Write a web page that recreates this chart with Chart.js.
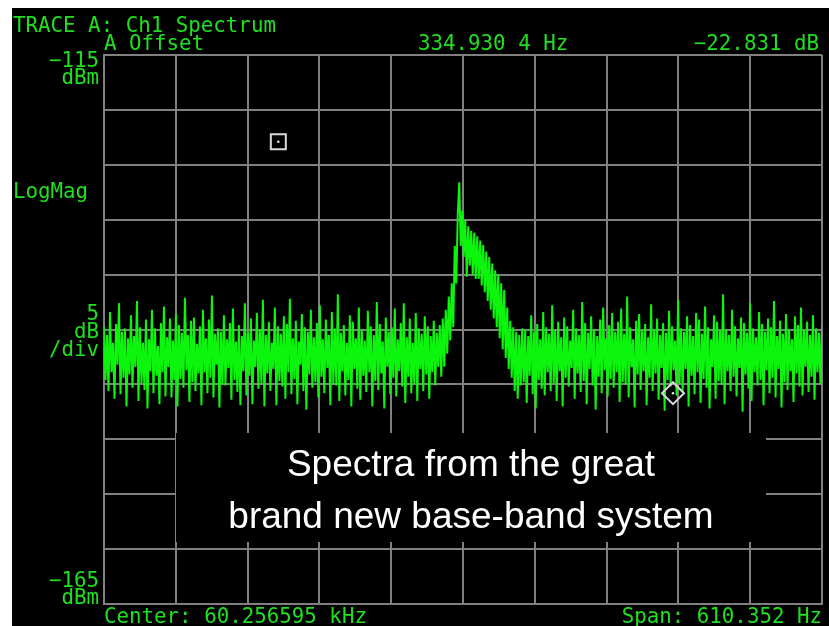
<!DOCTYPE html>
<html><head><meta charset="utf-8">
<script src="https://cdn.jsdelivr.net/npm/chart.js@4.4.1/dist/chart.umd.min.js"></script>
<style>html,body{margin:0;padding:0;background:#fff;overflow:hidden}canvas{display:block}</style>
</head><body>
<canvas id="c" width="829" height="626"></canvas>
<script>
// ---- data (dBm) ----
const floorLeft = [
-139.8,-144.6,-140.5,-145.6,-138.4,-143.9,-141.2,-146.3,-139.5,-143.2,-137.6,-145.9,-140.2,-144.4,-139.9,-147.0,
-140.8,-144.1,-138.7,-145.3,-140.6,-143.4,-137.4,-146.5,-139.8,-144.9,-141.2,-145.5,-139.1,-147.2,-140.9,-143.8,
-138.2,-145.8,-139.9,-144.2,-141.5,-146.8,-139.4,-143.9,-137.9,-146.1,-140.7,-143.4,-139.0,-146.2,-141.0,-144.6,
-138.6,-147.0,-139.6,-144.5,-140.3,-145.3,-137.1,-143.7,-140.5,-146.6,-139.2,-144.8,-138.9,-145.6,-141.3,-144.0,
-139.7,-146.9,-138.2,-143.9,-140.8,-145.8,-139.1,-144.4,-136.9,-146.2,-140.4,-143.2,-139.9,-147.1,-140.2,-145.0,
-138.7,-145.1,-140.9,-143.5,-139.4,-146.4,-138.1,-144.6,-141.1,-145.7,-139.6,-146.9,-140.6,-143.8,-137.6,-146.0,
-140.3,-144.2,-139.0,-146.8,-141.0,-143.4,-138.5,-145.4,-140.0,-144.9,-137.3,-147.0,-140.5,-144.0,-139.3,-145.6,
-141.2,-143.6,-138.0,-146.9,-139.7,-144.7,-140.4,-145.2,-138.8,-146.3,-139.5,-143.9,-137.2,-145.9,-140.8,-144.5,
-139.2,-146.8,-141.1,-143.2,-138.6,-145.6,-139.8,-147.3,-140.2,-144.1,-138.2,-145.3,-140.7,-144.8,-139.4,-146.2,
-137.8,-144.3,-140.9,-145.8,-139.1,-143.5,-140.5,-146.9,-138.4,-145.0,-139.9,-145.1,-136.8,-146.5,-140.3,-143.8,
-139.6,-146.0,-141.2,-144.6,-138.7,-147.0,-139.3,-143.6,-140.8,-145.4,-138.0,-146.4,-140.0,-144.2,-141.0,-145.7,
-138.3,-143.9,-139.7,-147.0,-140.5,-144.7,-137.5,-145.5,-139.5,-144.0,-141.1,-147.2,-138.9,-143.4,-140.2,-145.9,
-139.8,-144.4,-138.1,-146.1,-140.9,-143.8,-139.4,-145.2,-137.6,-146.7,-140.7,-144.3,-139.0,-145.8,-141.2,-144.9,
-138.5,-146.5,-139.9,-143.6,-140.4,-145.6,-138.8,-144.1,-139.7,-146.3,-140.6,-143.9,-139.2,-145.1,-140.3,-143.4
];
const peakRegion = [
-139.6,-144.3,-139.0,-143.4,-138.2,-142.2,-137.0,-141.0,-135.8,-139.8,
-132.4,-135.8,-129.6,-126.6,-132.4,-129.2,-133.4,-130.0,-135.2,-130.6,
-134.2,-131.0,-135.0,-131.2,-135.4,-131.5,-135.4,-131.9,-136.0,-132.3,
-136.6,-132.9,-137.4,-133.4,-138.2,-134.0,-139.0,-134.6,-139.8,-135.0,
-140.8,-135.8,-141.8,-136.4,-142.6,-138.0,-143.6,-139.2,-144.4,-139.8,
-145.6,-140.2,-146.3,-140.5,-145.1,-139.9
];
const floorRight = [
-144.8,-140.0,-146.7,-140.6,-144.2,-138.7,-145.9,-140.2,-147.2,-139.5,-144.6,-140.9,-145.4,-138.4,-146.0,-139.8,
-143.9,-140.4,-145.6,-137.8,-144.9,-140.1,-146.5,-139.3,-143.8,-140.7,-147.0,-138.9,-144.4,-139.7,-145.2,-141.0,
-143.5,-138.2,-146.3,-139.9,-144.0,-140.5,-145.7,-137.5,-144.7,-139.4,-146.8,-140.3,-143.6,-138.8,-145.1,-140.0,
-147.3,-140.6,-144.3,-139.1,-145.8,-138.0,-143.7,-140.8,-146.1,-139.6,-144.5,-138.5,-145.3,-140.2,-143.9,-139.3,
-146.6,-138.1,-144.8,-140.4,-145.0,-137.0,-146.2,-139.8,-143.4,-140.9,-147.1,-139.2,-144.1,-138.6,-145.5,-140.1,
-143.8,-139.5,-146.9,-140.7,-144.4,-137.7,-145.6,-140.0,-144.0,-139.0,-146.4,-140.5,-143.5,-139.4,-147.4,-140.3,
-144.6,-138.3,-145.2,-139.7,-143.7,-141.0,-146.0,-137.3,-144.9,-139.9,-145.7,-140.2,-143.6,-138.8,-147.0,-139.6,
-144.2,-140.6,-145.9,-138.5,-143.9,-139.1,-146.7,-140.4,-144.5,-137.9,-145.3,-139.8,-147.2,-140.9,-143.4,-138.7,
-146.3,-139.3,-144.7,-140.1,-145.0,-136.8,-146.8,-140.0,-143.8,-140.5,-145.6,-138.2,-144.3,-139.7,-146.1,-140.8,
-143.5,-138.9,-147.5,-139.4,-144.1,-140.3,-145.4,-137.6,-146.5,-139.9,-143.9,-140.7,-145.1,-138.4,-144.6,-139.5,
-146.9,-140.2,-143.7,-139.0,-145.8,-139.8,-144.4,-137.4,-146.2,-140.6,-143.6,-139.2,-147.1,-140.4,-144.8,-138.6,
-145.5,-140.0,-143.8,-140.9,-146.6,-138.8,-144.0,-139.6,-145.2,-138.0,-146.0,-140.1,-143.4,-139.3,-145.7,-140.5,
-144.3,-138.7,-146.4,-139.9,-143.9,-140.3,-145.0,-139.7
];
const traceValues = floorLeft.concat(peakRegion, floorRight);
const traceX = traceValues.map((v, i) => i);

const squareMarkerX = [116.3];
const squareMarkerY = [-122.9];
const diamondMarkerX = [379.6];
const diamondMarkerY = [-145.8];

const yTop = -115, yBottom = -165, yPerDiv = 5;
const xDivisions = 10;

const headerLine1 = "TRACE A: Ch1 Spectrum";
const headerLeft = "A Offset";
const headerMid = "334.930 4 Hz";
const headerRight = "\u221222.831 dB";
const topRefLabel = ["\u2212115", "dBm"];
const bottomRefLabel = ["\u2212165", "dBm"];
const formatLabel = "LogMag";
const scaleLabel = ["5", "dB", "/div"];
const footerLeft = "Center: 60.256595 kHz";
const footerRight = "Span: 610.352 Hz";
const boxLines = ["Spectra from the great", "brand new base-band system"];

// ---- drawing ----
const GREEN_TEXT = '#1fe01f';
const GRID = '#808080';

const decor = {
  id: 'decor',
  beforeDraw(chart) {
    const ctx = chart.ctx;
    ctx.save();
    ctx.fillStyle = '#fff';
    ctx.fillRect(0, 0, chart.width, chart.height);
    ctx.fillStyle = '#000';
    ctx.fillRect(12, 8, chart.width - 12, chart.height - 8);
    ctx.restore();
  },
  afterDraw(chart) {
    const ctx = chart.ctx;
    const a = chart.chartArea;
    ctx.save();
    // overlay box
    ctx.fillStyle = '#000';
    ctx.fillRect(176, 433, 590, 109);
    ctx.fillStyle = '#fff';
    ctx.font = '37px "Liberation Sans", Arial, sans-serif';
    ctx.textAlign = 'center';
    ctx.textBaseline = 'alphabetic';
    ctx.fillText(boxLines[0], 471, 476);
    ctx.fillText(boxLines[1], 471, 528);

    ctx.fillStyle = GREEN_TEXT;
    ctx.font = '20.8px "DejaVu Sans Mono", monospace';
    ctx.textAlign = 'left';
    ctx.fillText(headerLine1, 13, 32);
    ctx.fillText(headerLeft, a.left, 50);
    ctx.fillText(headerMid, 418, 50);
    ctx.fillText(formatLabel, 13, 198);
    ctx.fillText(footerLeft, a.left, 623);
    ctx.textAlign = 'right';
    ctx.fillText(headerRight, 819, 50);
    ctx.fillText(footerRight, 822, 623);
    const rx = a.left - 5;
    ctx.fillText(topRefLabel[0], rx, 67);
    ctx.fillText(topRefLabel[1], rx, 84);
    ctx.fillText(scaleLabel[0], rx, 320);
    ctx.fillText(scaleLabel[1], rx, 338);
    ctx.fillText(scaleLabel[2], rx, 356);
    ctx.fillText(bottomRefLabel[0], rx, 587);
    ctx.fillText(bottomRefLabel[1], rx, 604);
    ctx.restore();
  }
};

new Chart(document.getElementById('c'), {
  type: 'line',
  data: {
    datasets: [
      {
        data: traceX.map((x, i) => ({ x, y: traceValues[i] })),
        borderColor: '#0cf50c',
        borderWidth: 2,
        pointRadius: 0,
        tension: 0,
        order: 3
      },
      {
        data: squareMarkerX.map((x, i) => ({ x, y: squareMarkerY[i] })),
        showLine: false,
        pointStyle: 'rect',
        pointRadius: 10.6,
        borderColor: '#d8d8d8',
        backgroundColor: 'rgba(0,0,0,0)',
        pointBorderWidth: 2,
        order: 1
      },
      {
        data: diamondMarkerX.map((x, i) => ({ x, y: diamondMarkerY[i] })),
        showLine: false,
        pointStyle: 'rectRot',
        pointRadius: 11,
        borderColor: '#d8d8d8',
        backgroundColor: 'rgba(0,0,0,0)',
        pointBorderWidth: 2,
        order: 1
      },
      {
        data: squareMarkerX.concat(diamondMarkerX).map((x, i) => ({ x, y: squareMarkerY.concat(diamondMarkerY)[i] })),
        showLine: false,
        pointStyle: 'circle',
        pointRadius: 1.3,
        borderWidth: 0,
        backgroundColor: '#e0e0e0',
        order: 0
      }
    ]
  },
  options: {
    responsive: false,
    devicePixelRatio: 1,
    animation: false,
    events: [],
    layout: { autoPadding: false, padding: { left: 104, top: 55, right: 7, bottom: 22 } },
    plugins: { legend: { display: false }, tooltip: { enabled: false }, title: { display: false } },
    scales: {
      x: {
        type: 'linear',
        min: 0,
        max: traceValues.length - 1,
        ticks: { display: false, count: xDivisions + 1 },
        grid: { color: GRID, lineWidth: 2, drawTicks: false },
        border: { display: true, color: GRID, width: 2 }
      },
      y: {
        type: 'linear',
        min: yBottom,
        max: yTop,
        ticks: { display: false, stepSize: yPerDiv },
        grid: { color: GRID, lineWidth: 2, drawTicks: false },
        border: { display: true, color: GRID, width: 2 }
      }
    }
  },
  plugins: [decor]
});
</script>
</body></html>
